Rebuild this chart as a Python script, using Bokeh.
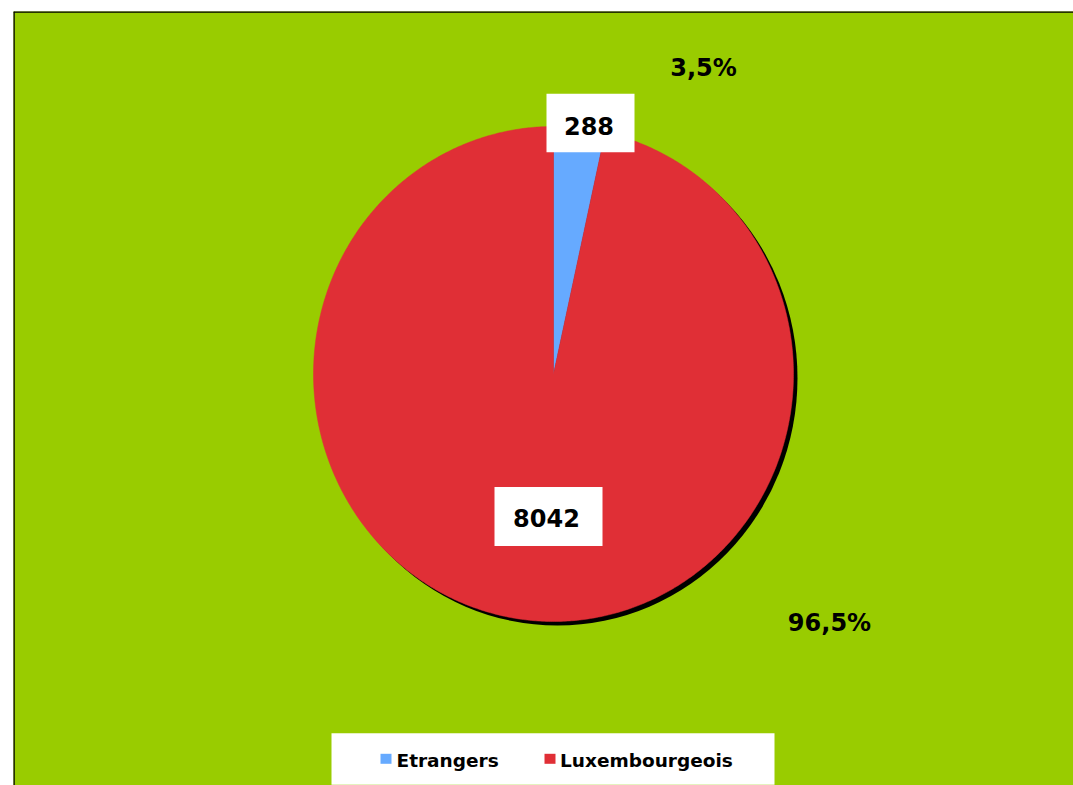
import numpy as np
from bokeh.plotting import figure
from bokeh.models import Range1d, ColumnDataSource, Span
from bokeh.core.properties import value
from bokeh.embed import file_html
from bokeh.resources import INLINE

# ---- data ----
categories = ["Etrangers", "Luxembourgeois"]
counts = [288, 8042]
colors = ["#66AAFF", "#E02F36"]

total = sum(counts)
fractions = [c / total for c in counts]
pct_labels = [("%.1f%%" % (f * 100)).replace(".", ",") for f in fractions]

# ---- figure (data coords == page pixels, y downward) ----
p = figure(width=1073, height=785, output_backend="svg", toolbar_location=None,
           x_range=Range1d(13, 1073), y_range=Range1d(785, 11))
p.min_border = 0
p.min_border_left = 13
p.min_border_top = 11
p.axis.visible = False
p.grid.visible = False
p.background_fill_color = "#99CC00"
p.border_fill_color = "white"
p.outline_line_color = None
p.add_layout(Span(location=11, dimension="width", line_color="black", line_width=2.5))
p.add_layout(Span(location=13, dimension="height", line_color="black", line_width=2.5))

cx, cy, rx, ry = 553, 373.5, 240, 247.5

# shadow
p.ellipse(x=[cx + 4], y=[cy + 4], width=[2 * rx], height=[2 * ry],
          fill_color="black", line_color=None)

# wedges as polygons (clockwise from 12 o'clock)
xs, ys = [], []
start = 0.0
for f in fractions:
    th = np.linspace(start, start + f * 2 * np.pi, max(8, int(f * 720)))
    xs.append([cx] + list(cx + rx * np.sin(th)) + [cx])
    ys.append([cy] + list(cy - ry * np.cos(th)) + [cy])
    start += f * 2 * np.pi
src = ColumnDataSource(dict(xs=xs, ys=ys, color=colors, cat=categories))
p.patches("xs", "ys", source=src, fill_color="color", line_color="color", line_width=0.5)

font = value("DejaVu Sans")

# value label boxes
box_x = [590, 548]
box_y = [122.5, 516]
box_w = [88, 108]
p.rect(x=box_x, y=box_y, width=box_w, height=[58.5, 59], fill_color="white", line_color=None)
p.text(x=[588.5, 546], y=[125, 517.5], text=[str(c) for c in counts], text_font=font,
       text_font_style="bold", text_font_size="24px", text_align="center",
       text_baseline="middle", text_color="black")

# percent labels
p.text(x=[703, 829], y=[67.5, 622.5], text=pct_labels, text_font=font,
       text_font_style="bold", text_font_size="24px", text_align="center",
       text_baseline="middle", text_color="black")

# legend
p.rect(x=[552.5], y=[758.5], width=[443], height=[51.5], fill_color="white", line_color=None)
p.rect(x=[385.5, 549.5], y=[758.3, 758.3], width=[11, 11], height=[10, 10],
       fill_color=colors, line_color=None)
p.text(x=[396, 559.5], y=[759.5, 759.5], text=categories, text_font=font,
       text_font_style="bold", text_font_size="18.5px", text_align="left",
       text_baseline="middle", text_color="black")

open("out.html", "w").write(file_html(p, INLINE))
